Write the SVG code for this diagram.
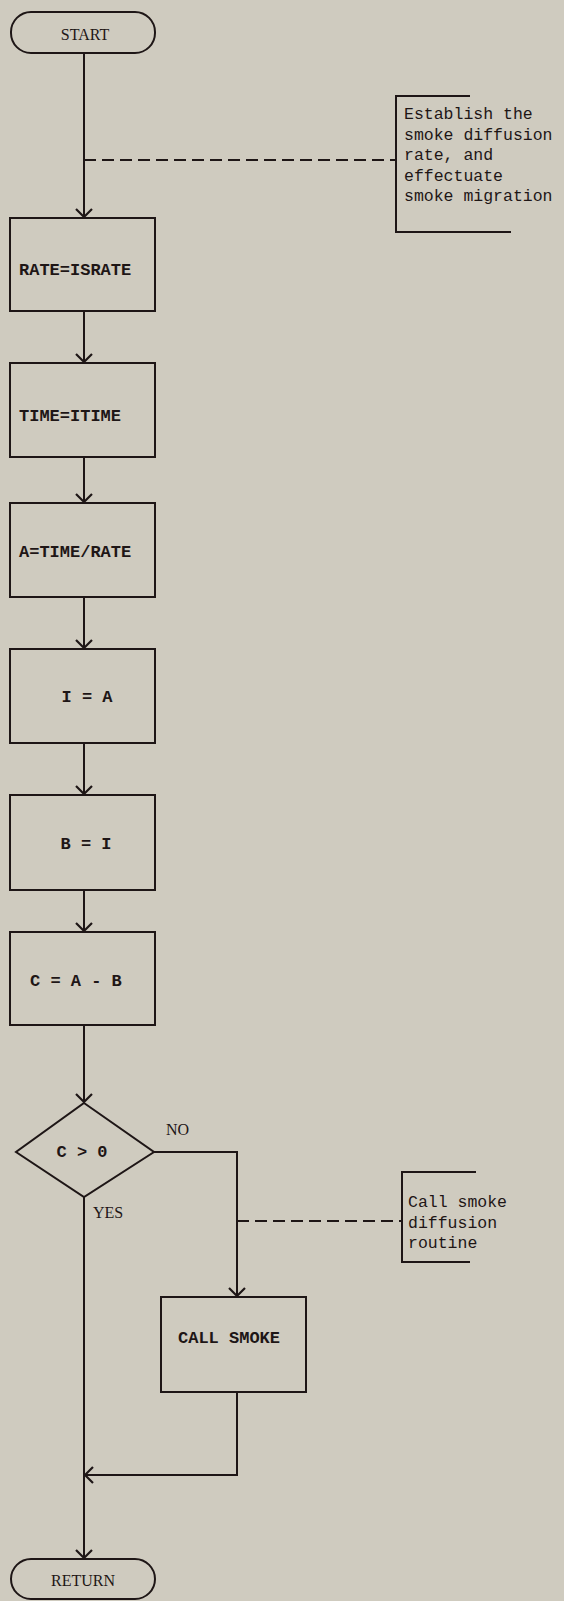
<svg xmlns="http://www.w3.org/2000/svg" width="564" height="1601" viewBox="0 0 564 1601">
<style>
.bg{fill:#cfcbbf}
.shape{fill:none;stroke:#1e1616;stroke-width:2}
.line{fill:none;stroke:#1e1616;stroke-width:2}
.dash{fill:none;stroke:#1e1616;stroke-width:2;stroke-dasharray:12 6}
.lbl{font-family:"Liberation Mono","Courier New",monospace;font-size:17px;font-weight:bold;fill:#1e1616}
.term{font-family:"Liberation Serif","Times New Roman",serif;font-size:16px;fill:#1e1616}
.cmt{font-family:"Liberation Mono","Courier New",monospace;font-size:16.5px;fill:#1e1616}
</style>
<defs>
<marker id="arr" markerWidth="20" markerHeight="20" refX="10" refY="10" orient="auto" markerUnits="userSpaceOnUse">
<path d="M2,2 L10,10 L2,18" fill="none" stroke="#1e1616" stroke-width="2.2"/>
</marker>
</defs>
<rect class="bg" x="0" y="0" width="564" height="1601"/>

<g id="connectors">
<line class="line" x1="84" y1="53" x2="84" y2="217" marker-end="url(#arr)"/>
<line class="dash" x1="84" y1="160" x2="396" y2="160"/>
<line class="line" x1="84" y1="311" x2="84" y2="362" marker-end="url(#arr)"/>
<line class="line" x1="84" y1="457" x2="84" y2="502" marker-end="url(#arr)"/>
<line class="line" x1="84" y1="597" x2="84" y2="648" marker-end="url(#arr)"/>
<line class="line" x1="84" y1="743" x2="84" y2="794" marker-end="url(#arr)"/>
<line class="line" x1="84" y1="890" x2="84" y2="931" marker-end="url(#arr)"/>
<line class="line" x1="84" y1="1025" x2="84" y2="1102" marker-end="url(#arr)"/>
<polyline class="line" points="154,1152 237,1152 237,1296" marker-end="url(#arr)"/>
<line class="dash" x1="237" y1="1221" x2="402" y2="1221"/>
<polyline class="line" points="237,1392 237,1475 85,1475" marker-end="url(#arr)"/>
<line class="line" x1="84" y1="1197" x2="84" y2="1558" marker-end="url(#arr)"/>
<text class="term" x="166" y="1135">NO</text>
<text class="term" x="93" y="1218">YES</text>
</g>

<g id="start">
<rect class="shape" x="11" y="12" width="144" height="41" rx="20" ry="20"/>
<text class="term" x="85" y="40" text-anchor="middle">START</text>
</g>

<g id="comment1">
<polyline class="line" points="470,96 396,96 396,232 511,232"/>
<text class="cmt" x="404" y="119">Establish the</text>
<text class="cmt" x="404" y="139.5">smoke diffusion</text>
<text class="cmt" x="404" y="160">rate, and</text>
<text class="cmt" x="404" y="180.5">effectuate</text>
<text class="cmt" x="404" y="201">smoke migration</text>
</g>

<g id="rate">
<rect class="shape" x="10" y="218" width="145" height="93"/>
<text class="lbl" x="19" y="275">RATE=ISRATE</text>
</g>

<g id="time">
<rect class="shape" x="10" y="363" width="145" height="94"/>
<text class="lbl" x="19" y="421">TIME=ITIME</text>
</g>

<g id="a">
<rect class="shape" x="10" y="503" width="145" height="94"/>
<text class="lbl" x="19" y="557">A=TIME/RATE</text>
</g>

<g id="i">
<rect class="shape" x="10" y="649" width="145" height="94"/>
<text class="lbl" x="87" y="702" text-anchor="middle">I = A</text>
</g>

<g id="b">
<rect class="shape" x="10" y="795" width="145" height="95"/>
<text class="lbl" x="86" y="849" text-anchor="middle">B = I</text>
</g>

<g id="c">
<rect class="shape" x="10" y="932" width="145" height="93"/>
<text class="lbl" x="30" y="986">C = A - B</text>
</g>

<g id="decision">
<polygon class="shape" points="84,1103 154,1152 84,1197 16,1152"/>
<text class="lbl" x="82" y="1157" text-anchor="middle">C &gt; 0</text>
</g>

<g id="comment2">
<polyline class="line" points="476,1172 402,1172 402,1262 470,1262"/>
<text class="cmt" x="408" y="1207">Call smoke</text>
<text class="cmt" x="408" y="1228">diffusion</text>
<text class="cmt" x="408" y="1248">routine</text>
</g>

<g id="callsmoke">
<rect class="shape" x="161" y="1297" width="145" height="95"/>
<text class="lbl" x="229" y="1343" text-anchor="middle">CALL SMOKE</text>
</g>

<g id="return">
<rect class="shape" x="11" y="1559" width="144" height="40" rx="20" ry="20"/>
<text class="term" x="83" y="1586" text-anchor="middle">RETURN</text>
</g>
</svg>
